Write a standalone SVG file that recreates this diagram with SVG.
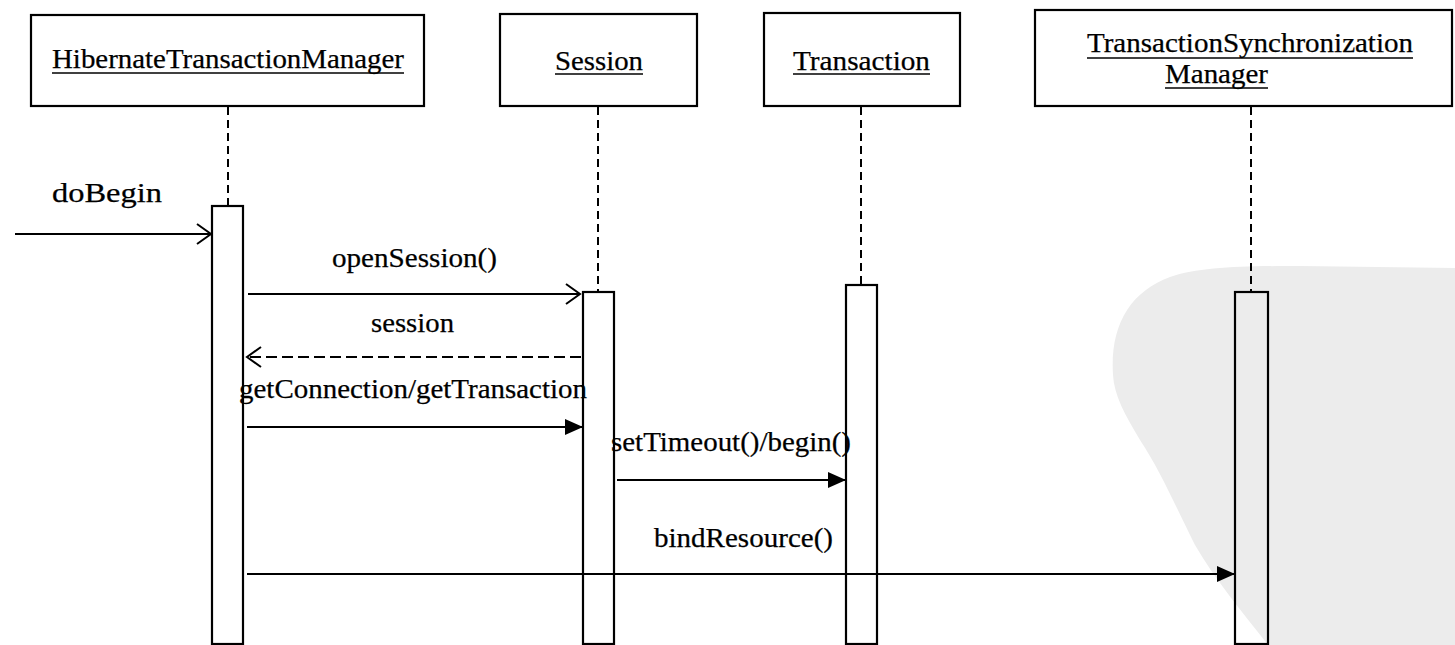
<svg xmlns="http://www.w3.org/2000/svg" width="1455" height="645" viewBox="0 0 1455 645">
<style>
  .box{fill:#fff;stroke:#000;stroke-width:2.2}
  .act{fill:none;stroke:#000;stroke-width:2.2}
  .life{stroke:#000;stroke-width:2;stroke-dasharray:8 5;fill:none}
  .msg{stroke:#000;stroke-width:2;fill:none}
  .ret{stroke:#000;stroke-width:2;fill:none;stroke-dasharray:11 5}
  .ul{stroke:#000;stroke-width:1.6}
  text{font-family:"Liberation Serif","Times New Roman",serif;fill:#000;stroke:#000;stroke-width:0.25}
  .t{font-size:28px}
  .m{font-size:27px}
</style>
<defs>
  <marker id="open" markerUnits="userSpaceOnUse" markerWidth="18" markerHeight="24" refX="15" refY="11" orient="auto">
    <path d="M1,1 L15,11 L1,21" fill="none" stroke="#000" stroke-width="2"/>
  </marker>
  <marker id="fill" markerUnits="userSpaceOnUse" markerWidth="20" markerHeight="18" refX="18" refY="8" orient="auto">
    <path d="M0,0 L18,8 L0,16 Z" fill="#000"/>
  </marker>
</defs>

<path id="watermark" d="M1113,375 C1110,325 1130,292 1170,277 C1200,267 1240,266 1300,266 L1455,268 L1455,645 L1268,645 C1245,615 1215,580 1195,545 C1175,505 1160,470 1140,440 C1125,415 1114,395 1113,375 Z" fill="#ececec"/>

<g id="lifelines">
  <line class="life" x1="228" y1="107" x2="228" y2="205"/>
  <line class="life" x1="598" y1="107" x2="598" y2="291"/>
  <line class="life" x1="861" y1="107" x2="861" y2="284"/>
  <line class="life" x1="1251" y1="107" x2="1251" y2="291"/>
</g>

<g id="HibernateTransactionManager">
  <rect class="box" x="31" y="15" width="393" height="91"/>
  <text class="t" x="52" y="68" textLength="352" lengthAdjust="spacingAndGlyphs">HibernateTransactionManager</text>
  <line class="ul" x1="52" y1="73" x2="404" y2="73"/>
  <rect class="act" x="212" y="206" width="31" height="438"/>
</g>

<g id="Session">
  <rect class="box" x="500" y="14" width="197" height="92"/>
  <text class="t" x="555" y="70" textLength="88" lengthAdjust="spacingAndGlyphs">Session</text>
  <line class="ul" x1="555" y1="74" x2="643" y2="74"/>
  <rect class="act" x="583" y="292" width="31" height="352"/>
</g>

<g id="Transaction">
  <rect class="box" x="764" y="13" width="196" height="93"/>
  <text class="t" x="793" y="70" textLength="137" lengthAdjust="spacingAndGlyphs">Transaction</text>
  <line class="ul" x1="793" y1="74" x2="930" y2="74"/>
  <rect class="act" x="846" y="285" width="31" height="359"/>
</g>

<g id="TransactionSynchronizationManager">
  <rect class="box" x="1035" y="10" width="417" height="96"/>
  <text class="t" x="1087" y="52" textLength="326" lengthAdjust="spacingAndGlyphs">TransactionSynchronization</text>
  <line class="ul" x1="1087" y1="58" x2="1413" y2="58"/>
  <text class="t" x="1165" y="83" textLength="103" lengthAdjust="spacingAndGlyphs">Manager</text>
  <line class="ul" x1="1165" y1="88" x2="1268" y2="88"/>
  <rect class="act" x="1235" y="292" width="33" height="352"/>
</g>

<g id="connectors">
  <line class="msg" x1="15" y1="234" x2="211" y2="234" marker-end="url(#open)"/>
  <text class="m" x="52" y="202" textLength="110" lengthAdjust="spacingAndGlyphs">doBegin</text>

  <line class="msg" x1="248" y1="294" x2="580" y2="294" marker-end="url(#open)"/>
  <text class="m" x="332" y="267" textLength="165" lengthAdjust="spacingAndGlyphs">openSession()</text>

  <line class="ret" x1="581" y1="357" x2="247" y2="357" marker-end="url(#open)"/>
  <text class="m" x="371" y="332" textLength="83" lengthAdjust="spacingAndGlyphs">session</text>

  <line class="msg" x1="247" y1="427" x2="583" y2="427" marker-end="url(#fill)"/>
  <text class="m" x="239" y="398" textLength="348" lengthAdjust="spacingAndGlyphs">getConnection/getTransaction</text>

  <line class="msg" x1="617" y1="480" x2="846" y2="480" marker-end="url(#fill)"/>
  <text class="m" x="611" y="451" textLength="240" lengthAdjust="spacingAndGlyphs">setTimeout()/begin()</text>

  <line class="msg" x1="247" y1="574" x2="1235" y2="574" marker-end="url(#fill)"/>
  <text class="m" x="654" y="547" textLength="179" lengthAdjust="spacingAndGlyphs">bindResource()</text>
</g>
</svg>
